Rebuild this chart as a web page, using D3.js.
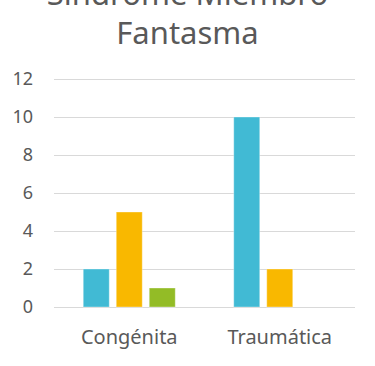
<!DOCTYPE html>
<html lang="es">
<head>
<meta charset="UTF-8">
<title>Síndrome Miembro Fantasma</title>
<script src="https://cdn.jsdelivr.net/npm/d3@7"></script>
<style>
  body { margin: 0; background: #fff; }
  text { font-family: "Noto Sans", "Open Sans", sans-serif; fill: #595959; }
</style>
</head>
<body>
<div id="chart"></div>
<script>
// data
var categories = ["Congénita", "Traumática"];
var series = ["Serie 1", "Serie 2", "Serie 3"];
var values = [
  [2, 5, 1],   // Congénita
  [10, 2, 0]   // Traumática
];
var yTicks = [0, 2, 4, 6, 8, 10, 12];
var colors = ["#41bad4", "#f9b800", "#93bc26"];
var titleLines = ["Síndrome Miembro", "Fantasma"];

var width = 375, height = 366;
var margin = {top: 79, right: 20, bottom: 59, left: 54};

var svg = d3.select("#chart").append("svg")
  .attr("width", width)
  .attr("height", height);

var x0 = d3.scaleBand()
  .domain(categories)
  .range([margin.left, width - margin.right])
  .padding(0);

var x1 = d3.scaleBand()
  .domain(series)
  .range([0, x0.bandwidth()])
  .paddingInner(0.212)
  .paddingOuter(0.886);

var y = d3.scaleLinear()
  .domain([0, 12])
  .range([height - margin.bottom, margin.top]);

// gridlines
svg.append("g")
  .selectAll("line")
  .data(yTicks)
  .enter().append("line")
    .attr("x1", margin.left)
    .attr("x2", width - margin.right)
    .attr("y1", function(d) { return Math.round(y(d)) + 0.5; })
    .attr("y2", function(d) { return Math.round(y(d)) + 0.5; })
    .attr("stroke", "#d9d9d9")
    .attr("stroke-width", 1);

// y axis labels
var yAxis = svg.append("g")
  .attr("transform", "translate(" + (margin.left - 21) + ",0)")
  .call(d3.axisLeft(y).tickValues(yTicks).tickSize(0).tickPadding(0));
yAxis.select(".domain").remove();
yAxis.selectAll("text")
  .style("font-size", "18px")
  .style("fill", "#595959")
  .style("font-family", "'Noto Sans', sans-serif");

// bars
var groups = svg.append("g")
  .selectAll("g")
  .data(categories)
  .enter().append("g")
    .attr("transform", function(d) { return "translate(" + x0(d) + ",0)"; });

groups.selectAll("rect")
  .data(function(d, i) {
    return series.map(function(s, j) { return {s: s, v: values[i][j], c: colors[j]}; });
  })
  .enter().append("rect")
    .filter(function(d) { return d.v > 0; })
    .attr("x", function(d) { return x1(d.s); })
    .attr("y", function(d) { return y(d.v); })
    .attr("width", x1.bandwidth())
    .attr("height", function(d) { return y(0) - y(d.v); })
    .attr("fill", function(d) { return d.c; })
    .attr("stroke", "#ffffff")
    .attr("stroke-opacity", 0.35)
    .attr("stroke-width", 1);

// x axis labels
var xAxis = svg.append("g")
  .attr("transform", "translate(0," + (height - margin.bottom) + ")")
  .call(d3.axisBottom(x0).tickSize(0).tickPadding(23));
xAxis.select(".domain").remove();
xAxis.selectAll("text")
  .style("font-size", "20px")
  .style("fill", "#595959")
  .style("font-family", "'Noto Sans', sans-serif");

// title
svg.append("text")
  .attr("text-anchor", "middle")
  .attr("x", width / 2)
  .attr("y", 5)
  .style("font-size", "31px")
  .text(titleLines[0]);
svg.append("text")
  .attr("text-anchor", "middle")
  .attr("x", width / 2)
  .attr("y", 44)
  .style("font-size", "31px")
  .text(titleLines[1]);
</script>
</body>
</html>
